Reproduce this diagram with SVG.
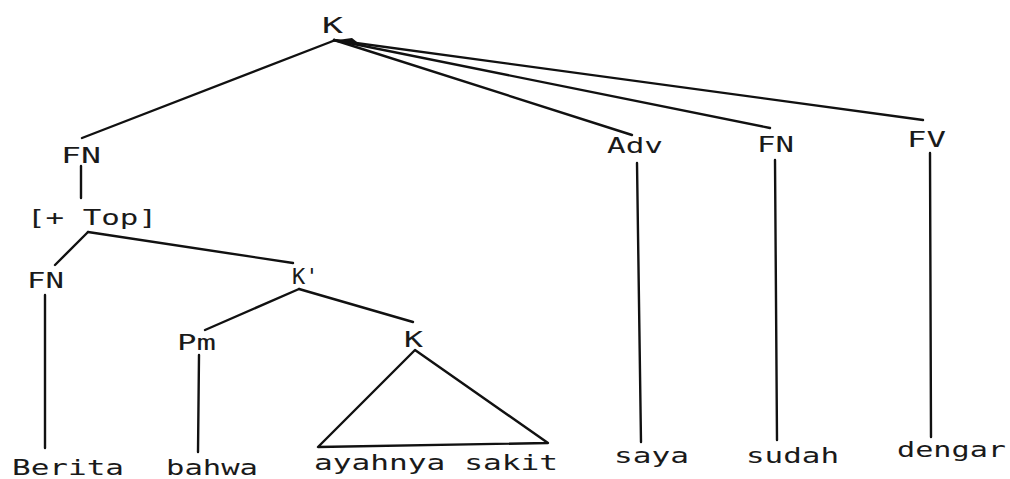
<svg xmlns="http://www.w3.org/2000/svg" width="1010" height="479" viewBox="0 0 1010 479">
<style>
text{font-family:"DejaVu Sans Mono","Liberation Mono",monospace;font-size:22px;fill:#1a1a1a}
.e{stroke:#111;stroke-width:2.4;fill:none;stroke-linecap:round;stroke-linejoin:round}
</style>
<rect width="1010" height="479" fill="#fff"/>
<g id="connectors">
<line class="e" x1="333" y1="41" x2="82" y2="138"/>
<line class="e" x1="334" y1="40" x2="632" y2="135"/>
<line class="e" x1="334" y1="40" x2="770" y2="128"/>
<line class="e" x1="334" y1="40" x2="923" y2="120"/>
<path d="M330 41 L352 38 L362 46 Z" fill="#111"/>
<line class="e" x1="81" y1="166" x2="81" y2="198"/>
<line class="e" x1="88" y1="232" x2="55" y2="265"/>
<line class="e" x1="88" y1="232" x2="293" y2="263"/>
<line class="e" x1="299" y1="289" x2="205" y2="330"/>
<line class="e" x1="299" y1="289" x2="413" y2="322"/>
<line class="e" x1="45" y1="295" x2="45" y2="448"/>
<line class="e" x1="199" y1="355" x2="198" y2="452"/>
<path class="e" d="M415 350 L318 447 L548 443 Z"/>
<line class="e" x1="637" y1="163" x2="641" y2="442"/>
<line class="e" x1="775" y1="160" x2="777" y2="440"/>
<line class="e" x1="930" y1="153" x2="931" y2="437"/>
</g>
<g id="n-K-root"><text x="322" y="33" textLength="21" lengthAdjust="spacingAndGlyphs">K</text></g>
<g id="n-FN-1"><text x="61" y="163" textLength="40" lengthAdjust="spacingAndGlyphs">FN</text></g>
<g id="n-top"><text x="27" y="225" textLength="130" lengthAdjust="spacingAndGlyphs">[+ Top]</text></g>
<g id="n-FN-2"><text x="27" y="288" textLength="37" lengthAdjust="spacingAndGlyphs">FN</text></g>
<g id="n-Kprime"><text x="292" y="284">K'</text></g>
<g id="n-Pm"><text x="177" y="350" textLength="39" lengthAdjust="spacingAndGlyphs">Pm</text></g>
<g id="n-K-sub"><text x="404" y="347" textLength="19" lengthAdjust="spacingAndGlyphs">K</text></g>
<g id="n-Adv"><text x="607" y="153" textLength="56" lengthAdjust="spacingAndGlyphs">Adv</text></g>
<g id="n-FN-3"><text x="757" y="152" textLength="37" lengthAdjust="spacingAndGlyphs">FN</text></g>
<g id="n-FV"><text x="907" y="147" textLength="39" lengthAdjust="spacingAndGlyphs">FV</text></g>
<g id="w-Berita"><text x="12" y="475" textLength="112" lengthAdjust="spacingAndGlyphs">Berita</text></g>
<g id="w-bahwa"><text x="166" y="475" textLength="92" lengthAdjust="spacingAndGlyphs">bahwa</text></g>
<g id="w-ayahnya"><text x="314" y="470" textLength="244" lengthAdjust="spacingAndGlyphs">ayahnya sakit</text></g>
<g id="w-saya"><text x="614" y="463" textLength="75" lengthAdjust="spacingAndGlyphs">saya</text></g>
<g id="w-sudah"><text x="746" y="463" textLength="93" lengthAdjust="spacingAndGlyphs">sudah</text></g>
<g id="w-dengar"><text x="897" y="457" textLength="109" lengthAdjust="spacingAndGlyphs">dengar</text></g>
</svg>
